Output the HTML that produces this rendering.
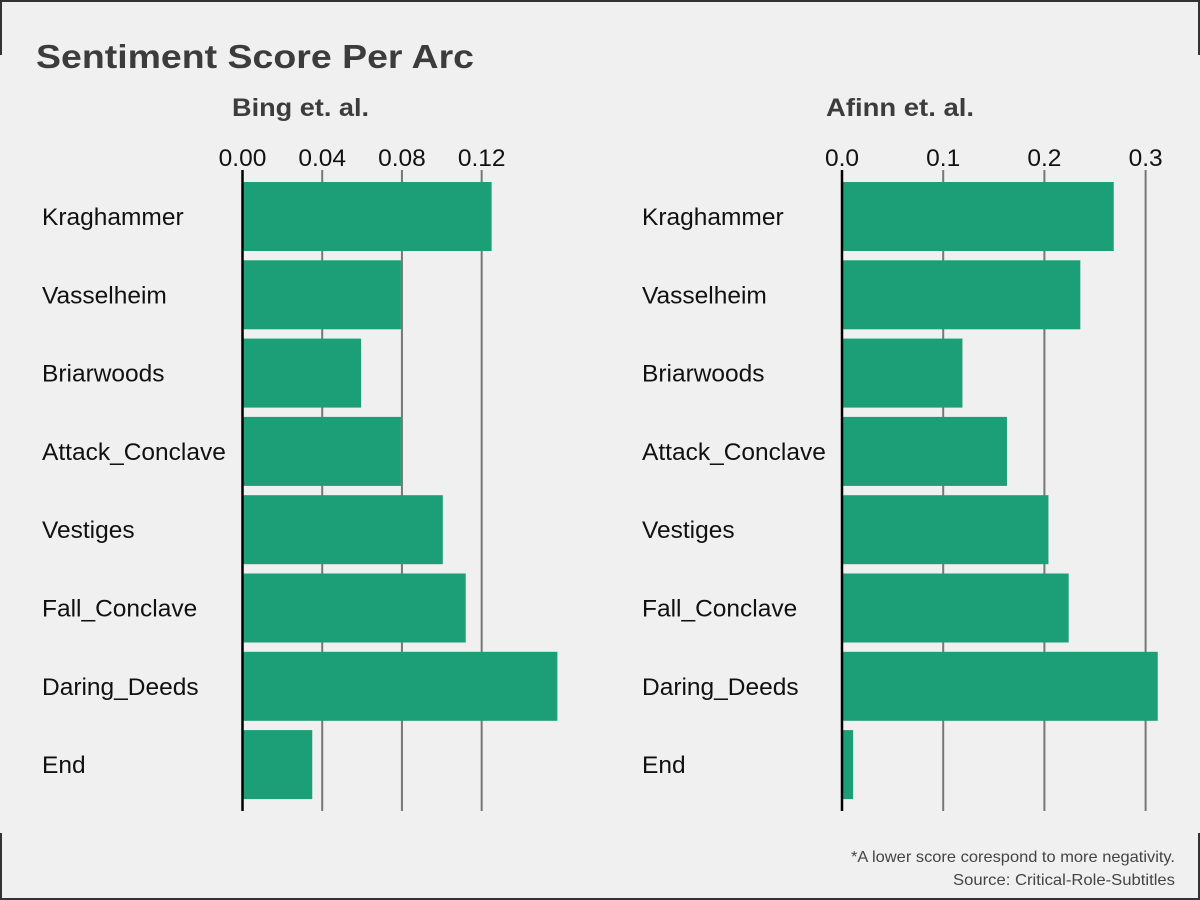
<!DOCTYPE html>
<html><head><meta charset="utf-8"><style>
body{margin:0;background:#f0f0f0;}
svg{display:block;font-family:"Liberation Sans",Arial,sans-serif;}
</style></head><body>
<svg id="chart" width="1200" height="900" viewBox="0 0 1200 900">
<rect x="0" y="0" width="1200" height="900" fill="#f0f0f0"/>
<g stroke="#333" stroke-width="2" fill="none">
<path d="M1,55 V1 H1199 V55"/>
<path d="M1,833 V899 H1199 V833"/>
</g>
<text x="36" y="68" font-size="33" font-weight="bold" fill="#3c3c3c" textLength="438" lengthAdjust="spacingAndGlyphs">Sentiment Score Per Arc</text>
<text x="232" y="116" font-size="25" font-weight="bold" fill="#3c3c3c" textLength="137" lengthAdjust="spacingAndGlyphs">Bing et. al.</text>
<text x="826" y="116" font-size="25" font-weight="bold" fill="#3c3c3c" textLength="148" lengthAdjust="spacingAndGlyphs">Afinn et. al.</text>
<text x="1175" y="862" font-size="16" fill="#444" text-anchor="end" textLength="324" lengthAdjust="spacingAndGlyphs">*A lower score corespond to more negativity.</text>
<text x="1175" y="885" font-size="16" fill="#444" text-anchor="end" textLength="222" lengthAdjust="spacingAndGlyphs">Source: Critical-Role-Subtitles</text>
<g id="panels"></g>
</svg>
<script>
const categories = ["Kraghammer","Vasselheim","Briarwoods","Attack_Conclave","Vestiges","Fall_Conclave","Daring_Deeds","End"];
const bingValues = [0.125, 0.0795, 0.0595, 0.0795, 0.1005, 0.112, 0.158, 0.035];
const afinnValues = [0.2685, 0.2355, 0.119, 0.163, 0.204, 0.224, 0.312, 0.011];
const bingTicks = [0, 0.04, 0.08, 0.12];
const bingTickLabels = ["0.00","0.04","0.08","0.12"];
const afinnTicks = [0, 0.1, 0.2, 0.3];
const afinnTickLabels = ["0.0","0.1","0.2","0.3"];

const NS = "http://www.w3.org/2000/svg";
const root = document.getElementById("panels");
function mk(tag, attrs, parent){const e=document.createElementNS(NS,tag);for(const k in attrs)e.setAttribute(k,attrs[k]);parent.appendChild(e);return e;}

function panel(key, x0, pxPerUnit, labelX, values, ticks, tickLabels){
  const g = mk("g",{},root);
  
  
  const xs = v => x0 + v*pxPerUnit;
  const top = 182, pitch = 78.3, bh = 69;
  const ys = i => top + i*pitch;
  ticks.forEach((t,i)=>{
    if(i>0){
      const l = mk("line",{x1:xs(t),x2:xs(t),y1:170,y2:811,stroke:"#777","stroke-width":2},g);
      
      
    }
    const tx = mk("text",{x:xs(t),y:166,"font-size":24.5,"text-anchor":"middle",fill:"#111"},g);
    tx.textContent = tickLabels[i];
    
    
  });
  categories.forEach((c,i)=>{
    const r = mk("rect",{x:xs(0),y:ys(i),width:Math.max(0,xs(values[i])-xs(0)),height:bh,fill:"#1c9e77"},g);
    
    
    const t = mk("text",{x:labelX,y:ys(i)+bh/2+8.5,"font-size":24.5,fill:"#111"},g);
    t.textContent = c;
    
    
  });
  const ax = mk("line",{x1:xs(0),x2:xs(0),y1:170,y2:811,stroke:"#000","stroke-width":2.5},g);
  
  
}
panel("bing", 242.5, 1993, 42, bingValues, bingTicks, bingTickLabels);
panel("afinn", 842, 1012, 642, afinnValues, afinnTicks, afinnTickLabels);
</script>
</body></html>
